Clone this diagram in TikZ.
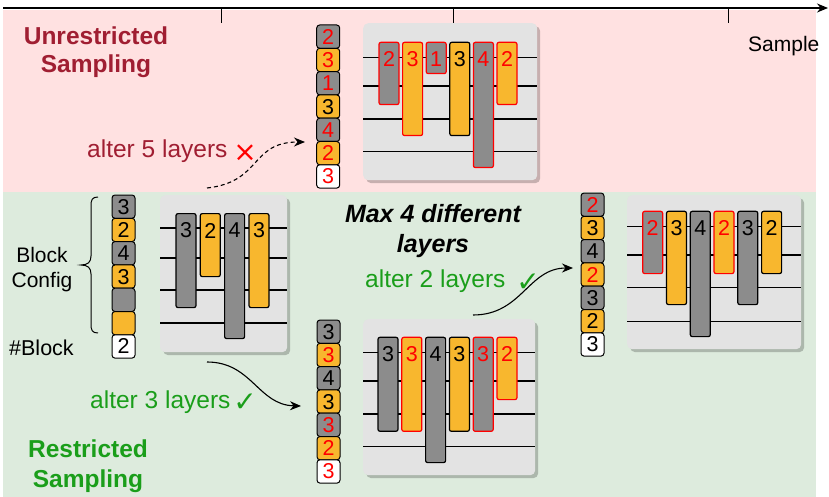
\documentclass[tikz,border=0pt]{standalone}
\usepackage{fontspec}
\setmainfont{Liberation Sans}
\newfontfamily\symfont{DejaVu Sans}
\usetikzlibrary{arrows.meta,shadows}
\definecolor{pinkbg}{HTML}{FFE1E1}
\definecolor{greenbg}{HTML}{DDEBDD}
\definecolor{panelgray}{HTML}{E3E3E3}
\definecolor{bgray}{HTML}{8C8C8C}
\definecolor{borange}{HTML}{F8B72E}
\definecolor{myred}{HTML}{FF0000}
\definecolor{darkred}{HTML}{A01E32}
\definecolor{mygreen}{HTML}{1A9E1A}
\newcommand\dig{\fontsize{21.5}{23}\selectfont}
\newcommand\barnode[8]{%
  \node[barst,fill=#5,draw=#6,minimum height={#4-#3},anchor=north] (#1) at ({#2+10},#3) {};
  \node[font=\dig,text=#7,inner sep=0pt] (#1d) at ({#2+10},{#3+17.5}) {#8};}
\tikzset{
  cbox/.style={draw=black,line width=1pt,rounded corners=3pt,minimum width=23pt,minimum height=23.3pt,inner sep=0pt,font=\dig,text height=15pt,text depth=0pt},
  barst/.style={line width=1.2pt,rounded corners=2pt,minimum width=20pt,inner sep=0pt},
  panel/.style={fill=panelgray,rounded corners=5pt,inner sep=0pt,anchor=north west,
    drop shadow={shadow xshift=3pt,shadow yshift=-3pt,opacity=0.22,fill=black}},
  hline/.style={line width=1.3pt,black},
  conn/.style={line width=1.1pt,-{Stealth[length=11pt,width=9pt]}},
  lbl/.style={font=\fontsize{24.5}{28}\selectfont,inner sep=0pt},
  sym/.style={font=\symfont\fontsize{28}{30}\selectfont,anchor=base,inner sep=0pt},
}
\begin{document}
\begin{tikzpicture}[x=1pt,y=-1pt]
\useasboundingbox (0,0) rectangle (829,497);
% backgrounds
\fill[pinkbg] (3,10) rectangle (816,192);
\fill[greenbg] (3,192) rectangle (816,497);
% axis
\draw[line width=1.5pt,-{Stealth[length=11pt,width=9pt]}] (3,8) -- (828,8);
\foreach \x in {221,453,728} \draw[line width=1pt] (\x,8) -- (\x,23);
\node[font=\fontsize{21}{25}\selectfont,inner sep=0pt,anchor=base west] (sample) at (748,52) {Sample};

% ---------- Panel A (unrestricted) ----------
\node[panel,minimum width=174pt,minimum height=157pt] (PA) at (363,23) {};
\foreach \y in {57.7,86,119,151.7} \draw[hline] (363,\y) -- (537,\y);
\barnode{a1}{379}{41.7}{104}{bgray}{myred}{myred}{2}
\barnode{a2}{402.6}{41.7}{135}{borange}{myred}{myred}{3}
\barnode{a3}{426.2}{41.7}{73}{bgray}{myred}{myred}{1}
\barnode{a4}{449.8}{41.7}{135}{borange}{black}{black}{3}
\barnode{a5}{473.4}{41.7}{167}{bgray}{myred}{myred}{4}
\barnode{a6}{497}{41.7}{104}{borange}{myred}{myred}{2}
\foreach \f/\t/\d [count=\i] in {bgray/myred/2,borange/myred/3,bgray/myred/1,borange/black/3,bgray/myred/4,borange/myred/2,white/myred/3}
  \node[cbox,fill=\f,text=\t] (ca\i) at (328.2,{25+11.65+(\i-1)*23.3}) {\d};

% ---------- Panel B (initial) ----------
\node[panel,minimum width=127pt,minimum height=157pt] (PB) at (160,195) {};
\foreach \y in {228,258,290,323} \draw[hline] (160,\y) -- (287,\y);
\barnode{b1}{176}{213}{307}{bgray}{black}{black}{3}
\barnode{b2}{200.3}{213}{276}{borange}{black}{black}{2}
\barnode{b3}{224.6}{213}{338}{bgray}{black}{black}{4}
\barnode{b4}{249}{213}{307}{borange}{black}{black}{3}
\foreach \f/\t/\d [count=\i] in {bgray/black/3,borange/black/2,bgray/black/4,borange/black/3,bgray/black/,borange/black/,white/black/2}
  \node[cbox,fill=\f,text=\t] (cb\i) at (123.5,{195+11.65+(\i-1)*23.3}) {\d};
\draw[line width=1pt] (98,197) .. controls (92,197) and (91,200) .. (91,206) -- (91,256)
  .. controls (91,262) and (88,265) .. (81,265) .. controls (88,265) and (91,268) .. (91,274)
  -- (91,324) .. controls (91,330) and (92,333) .. (98,333);
\node[font=\fontsize{21}{25}\selectfont,align=center,anchor=base,inner sep=0pt] (cfg) at (42,287) {Block\\Config};
\node[font=\fontsize{21.5}{25}\selectfont,anchor=base west,inner sep=0pt] (nblk) at (9,355) {\#Block};

% ---------- Panel C (restricted, 3 layers) ----------
\node[panel,minimum width=172pt,minimum height=156pt] (PC) at (363,319) {};
\foreach \y in {352.7,381,414,446.7} \draw[hline] (363,\y) -- (535,\y);
\barnode{c1}{378}{336.7}{430.7}{bgray}{black}{black}{3}
\barnode{c2}{401.8}{336.7}{430.7}{borange}{myred}{myred}{3}
\barnode{c3}{425.6}{336.7}{462}{bgray}{black}{black}{4}
\barnode{c4}{449.4}{336.7}{430.7}{borange}{black}{black}{3}
\barnode{c5}{473.2}{336.7}{430.7}{bgray}{myred}{myred}{3}
\barnode{c6}{497}{336.7}{399}{borange}{myred}{myred}{2}
\foreach \f/\t/\d [count=\i] in {bgray/black/3,borange/myred/3,bgray/black/4,borange/black/3,bgray/myred/3,borange/myred/2,white/myred/3}
  \node[cbox,fill=\f,text=\t] (cc\i) at (328.5,{320+11.65+(\i-1)*23.3}) {\d};

% ---------- Panel D (restricted, 2 layers) ----------
\node[panel,minimum width=174pt,minimum height=154pt] (PD) at (627,195) {};
\foreach \y in {226.7,255,287.7,321.7} \draw[hline] (627,\y) -- (801,\y);
\barnode{d1}{642.7}{210.7}{273}{bgray}{myred}{myred}{2}
\barnode{d2}{666.5}{210.7}{304}{borange}{black}{black}{3}
\barnode{d3}{690.3}{210.7}{336}{bgray}{black}{black}{4}
\barnode{d4}{714}{210.7}{273}{borange}{myred}{myred}{2}
\barnode{d5}{737.8}{210.7}{304}{bgray}{black}{black}{3}
\barnode{d6}{761.6}{210.7}{273}{borange}{black}{black}{2}
\foreach \f/\t/\d [count=\i] in {bgray/myred/2,borange/black/3,bgray/black/4,borange/myred/2,bgray/black/3,borange/black/2,white/black/3}
  \node[cbox,fill=\f,text=\t] (cd\i) at (592.5,{193+11.65+(\i-1)*23.3}) {\d};

% ---------- texts ----------
\node[font=\fontsize{24.5}{28}\selectfont\bfseries,text=darkred,align=center,anchor=base,inner sep=0pt] (unres) at (96,73) {Unrestricted\\Sampling};
\node[font=\fontsize{24.5}{30}\selectfont\bfseries,text=mygreen,align=center,anchor=base,inner sep=0pt] (res) at (88,487) {Restricted\\Sampling};
\node[font=\fontsize{25}{30}\selectfont\bfseries\itshape,align=center,anchor=base,inner sep=0pt] (max4) at (433,252) {Max 4 different\\layers};
\node[lbl,text=darkred,anchor=base west] (alt5) at (87,158) {alter 5 layers};
\node[sym,text=myred] (x5) at (245,161) {×};
\node[lbl,text=mygreen,anchor=base west] (alt3) at (90,408) {alter 3 layers};
\node[sym,text=mygreen] (ck3) at (245,411) {✓};
\node[lbl,text=mygreen,anchor=base west] (alt2) at (365,287) {alter 2 layers};
\node[sym,text=mygreen] (ck2) at (528,291) {✓};

% ---------- connectors ----------
\coordinate (s1) at (207,188);
\coordinate (e1) at (305,142);
\draw[conn,dashed,dash pattern=on 4pt off 3pt] (s1) .. controls (262,182) and (250,142) .. (e1);
\coordinate (s2) at (207,362);
\coordinate (e2) at (301,406);
\draw[conn] (s2) .. controls (252,362) and (258,405) .. (e2);
\coordinate (s3) at (473,315);
\coordinate (e3) at (573,268);
\draw[conn] (s3) .. controls (522,315) and (528,268) .. (e3);
\end{tikzpicture}
\end{document}
